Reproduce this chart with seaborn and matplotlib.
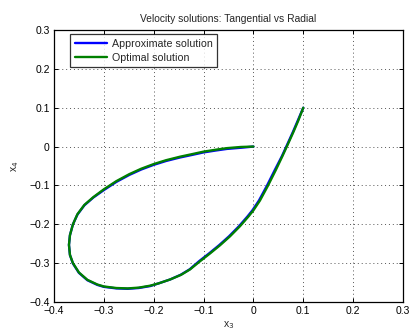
import matplotlib
matplotlib.use("Agg")
import matplotlib.pyplot as plt
import seaborn as sns
import pandas as pd

# ---- data ----
x3_opt = [0.000, -0.025, -0.053, -0.075, -0.100, -0.125, -0.147, -0.175, -0.200, -0.225,
          -0.249, -0.275, -0.300, -0.321, -0.339, -0.353, -0.362, -0.368, -0.370, -0.368,
          -0.362, -0.350, -0.333, -0.313, -0.300, -0.275, -0.252, -0.230, -0.207, -0.190,
          -0.167, -0.145, -0.127, -0.107, -0.087, -0.067, -0.047, -0.027, -0.010, 0.000,
          0.013, 0.029, 0.045, 0.058, 0.068, 0.080, 0.090, 0.100]
x4_opt = [0.000, -0.001, -0.004, -0.008, -0.013, -0.020, -0.026, -0.035, -0.045, -0.057,
          -0.071, -0.089, -0.110, -0.130, -0.150, -0.174, -0.200, -0.228, -0.253, -0.279,
          -0.300, -0.324, -0.343, -0.355, -0.360, -0.364, -0.365, -0.363, -0.358, -0.352,
          -0.342, -0.330, -0.316, -0.295, -0.275, -0.254, -0.231, -0.205, -0.180, -0.164,
          -0.139, -0.101, -0.060, -0.025, 0.003, 0.037, 0.067, 0.100]
x3_approx = [0.000, -0.025, -0.053, -0.075, -0.100, -0.125, -0.147, -0.175, -0.200, -0.225,
             -0.249, -0.275, -0.300, -0.321, -0.339, -0.353, -0.362, -0.368, -0.370, -0.368,
             -0.362, -0.350, -0.333, -0.313, -0.300, -0.275, -0.252, -0.230, -0.207, -0.190,
             -0.167, -0.146, -0.128, -0.109, -0.089, -0.069, -0.049, -0.029, -0.012, -0.002,
             0.011, 0.027, 0.043, 0.057, 0.067, 0.079, 0.089, 0.100]
x4_approx = [0.000, -0.003, -0.006, -0.010, -0.015, -0.022, -0.028, -0.037, -0.047, -0.059,
             -0.073, -0.091, -0.112, -0.131, -0.151, -0.175, -0.200, -0.228, -0.253, -0.279,
             -0.301, -0.325, -0.344, -0.356, -0.361, -0.365, -0.366, -0.364, -0.359, -0.352,
             -0.342, -0.330, -0.316, -0.295, -0.275, -0.254, -0.231, -0.205, -0.180, -0.164,
             -0.139, -0.101, -0.060, -0.025, 0.003, 0.037, 0.067, 0.100]

series_names = ["Approximate solution", "Optimal solution"]
series_colors = ["#0000ff", "#008000"]
x_ticks = [-0.4, -0.3, -0.2, -0.1, 0, 0.1, 0.2, 0.3]
x_tick_labels = ["\u22120.4", "\u22120.3", "\u22120.2", "\u22120.1", "0", "0.1", "0.2", "0.3"]
y_ticks = [-0.4, -0.3, -0.2, -0.1, 0, 0.1, 0.2, 0.3]
y_tick_labels = ["\u22120.4", "\u22120.3", "\u22120.2", "\u22120.1", "0", "0.1", "0.2", "0.3"]
title = "Velocity solutions: Tangential vs Radial"

sns.set_style("white")
plt.rcParams["font.family"] = ["Liberation Sans", "DejaVu Sans"]

df = pd.concat([
    pd.DataFrame({"x3": x3_approx, "x4": x4_approx, "series": series_names[0]}),
    pd.DataFrame({"x3": x3_opt, "x4": x4_opt, "series": series_names[1]}),
], ignore_index=True)

fig = plt.figure(figsize=(4.13, 3.36), dpi=100)
ax = fig.add_axes([54/413, 1-302/336, (403-54)/413, (302-30)/336])

sns.lineplot(data=df, x="x3", y="x4", hue="series", palette=series_colors,
             sort=False, estimator=None, linewidth=1.7, ax=ax)
for ln in ax.get_lines():
    ln.set_solid_joinstyle("round")
    ln.set_solid_capstyle("round")

ax.set_xlim(-0.4, 0.3)
ax.set_ylim(-0.4, 0.3)
ax.set_xticks(x_ticks)
ax.set_xticklabels(x_tick_labels)
ax.set_yticks(y_ticks)
ax.set_yticklabels(y_tick_labels)
ax.grid(True, linestyle=(0, (1, 3)), color="#555555", linewidth=0.7)
ax.tick_params(direction="in", length=3, width=0.7, labelsize=7.5,
               top=True, right=True, bottom=True, left=True, pad=3, colors="black")
for s in ax.spines.values():
    s.set_color("black")
    s.set_linewidth(0.9)

ax.set_title(title, fontsize=7.4, pad=6)
ax.set_xlabel("x$_3$", fontsize=7.5, labelpad=2)
ax.set_ylabel("x$_4$", fontsize=7.5, labelpad=6)

leg = ax.legend(loc="upper left", fontsize=7.7, frameon=True, fancybox=False,
                borderpad=0.45, handlelength=3.0, handletextpad=0.45,
                labelspacing=0.35, borderaxespad=0.0,
                bbox_to_anchor=(16/349, 1 - 4/272))
leg.get_frame().set_edgecolor("black")
leg.get_frame().set_linewidth(0.9)
for line in leg.get_lines():
    line.set_linewidth(1.7)

fig.savefig("out.png", dpi=100)
